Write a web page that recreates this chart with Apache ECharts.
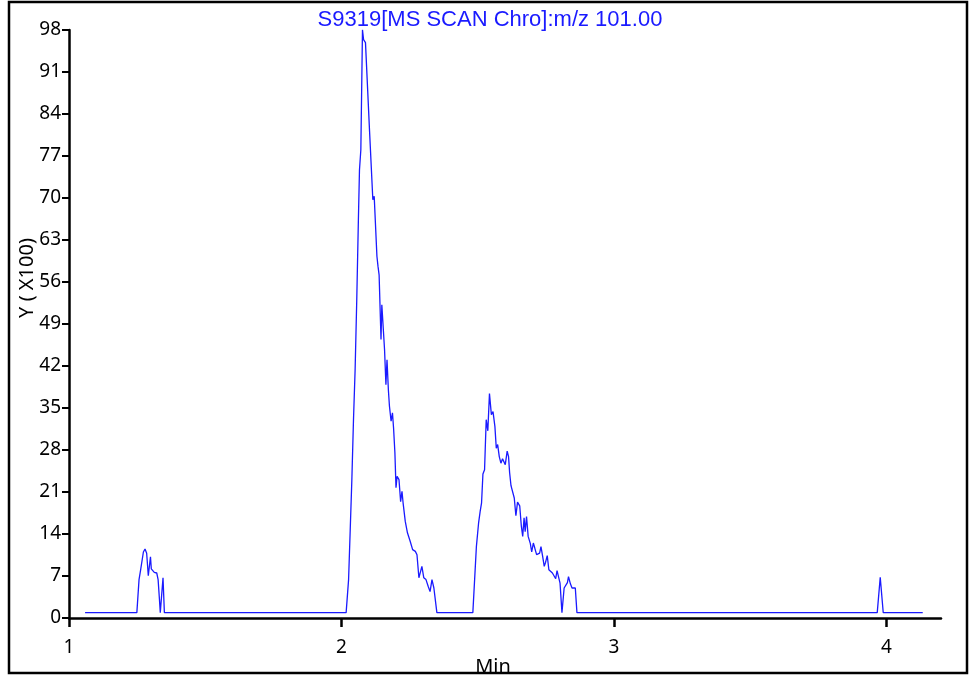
<!DOCTYPE html>
<html>
<head>
<meta charset="utf-8">
<script src="https://cdn.jsdelivr.net/npm/echarts@6/dist/echarts.min.js"></script>
<style>html,body{margin:0;padding:0;background:#fff}#c{width:971px;height:675px}</style>
</head>
<body>
<div id="c"></div>
<script>
// Retention time (min)
const times = [
  1.059, 1.249, 1.257, 1.263, 1.268, 1.273, 1.279, 1.285, 1.291, 1.299, 1.302, 1.307, 1.313, 1.318, 1.322, 1.327, 1.332, 1.335, 1.340, 1.345, 1.350,
  2.017, 2.026, 2.032, 2.038, 2.044, 2.050, 2.056, 2.062, 2.066, 2.071, 2.077, 2.081, 2.088, 2.091, 2.103, 2.108, 2.115, 2.120, 2.130, 2.134, 2.138,
  2.145, 2.148, 2.152, 2.158, 2.163, 2.167, 2.172, 2.176, 2.182, 2.187, 2.191, 2.196, 2.200, 2.204, 2.211, 2.217, 2.222, 2.226, 2.234, 2.242, 2.252,
  2.261, 2.271, 2.277, 2.284, 2.295, 2.302, 2.310, 2.318, 2.325, 2.332, 2.339, 2.345, 2.350,
  2.482, 2.495, 2.503, 2.509, 2.514, 2.519, 2.525, 2.531, 2.537, 2.543, 2.550, 2.556, 2.563, 2.568, 2.573, 2.579, 2.585, 2.591, 2.596, 2.601, 2.608,
  2.613, 2.617, 2.622, 2.629, 2.634, 2.640, 2.646, 2.654, 2.660, 2.665, 2.670, 2.674, 2.679, 2.685, 2.693, 2.698, 2.704, 2.709, 2.716, 2.722, 2.727,
  2.732, 2.738, 2.744, 2.749, 2.755, 2.761, 2.767, 2.774, 2.781, 2.786, 2.791, 2.797, 2.802, 2.809, 2.817, 2.822, 2.829, 2.833, 2.840, 2.846, 2.852,
  2.858, 2.864,
  3.966, 3.977, 3.988, 4.133
];
// Intensity (x100)
const intensity = [
  0.9, 0.9, 6.4, 8.05, 8.2, 11.0, 11.5, 10.8, 7.05, 10.2, 8.2, 8.05, 7.6, 7.7, 7.5, 6.4, 3.05, 0.9, 0.9, 6.7, 0.9,
  0.9, 6.4, 14.7, 23.05, 33.05, 41.4, 53.05, 66.4, 74.7, 78.05, 98.05, 96.4, 95.9, 95.8, 81.1, 80.9, 69.7, 70.3, 60.3, 58.6, 57.2,
  46.4, 52.2, 51.9, 44.7, 38.9, 43.05, 38.05, 35.3, 32.8, 34.2, 31.7, 27.5, 21.7, 23.6, 23.05, 19.4, 21.1, 19.2, 16.1, 14.2, 12.8,
  11.4, 11.1, 10.55, 6.7, 8.6, 6.7, 6.4, 5.3, 4.4, 6.4, 5.0, 5.0, 0.9,
  0.9, 11.9, 15.8, 17.8, 19.2, 24.0, 24.7, 33.05, 31.2, 37.4, 33.9, 34.4, 31.9, 28.3, 28.9, 26.9, 25.8, 26.55, 26.5, 25.55, 27.8,
  26.9, 24.2, 22.05, 21.9, 20.0, 17.05, 19.3, 18.7, 15.3, 13.6, 16.7, 14.4, 16.9, 13.6, 12.4, 11.0, 12.5, 11.7, 10.55, 10.55, 10.8,
  11.9, 10.3, 8.6, 9.3, 10.4, 8.05, 7.9, 7.5, 7.2, 6.55, 7.9, 7.8, 5.8, 0.9, 5.0, 5.3, 5.9, 6.9, 5.7, 5.0, 4.8,
  5.0, 0.9,
  0.9, 6.8, 0.9, 0.9
];
const xTicks = [1, 2, 3, 4];
const titleText = 'S9319[MS SCAN Chro]:m/z 101.00';
const xName = 'Min';
const yName = 'Y ( X100)';

const data = times.map((t, i) => [t, intensity[i]]);
const FONT = 'Noto Sans';

const chart = echarts.init(document.getElementById('c'), null, {renderer: 'canvas'});
chart.setOption({
  animation: false,
  backgroundColor: '#fff',
  title: {
    text: titleText,
    left: 485, top: 4, textAlign: 'center',
    textStyle: {color: '#1a1aff', fontSize: 22, fontWeight: 'normal', fontFamily: 'Liberation Sans'}
  },
  grid: {left: 69, right: 30, top: 30, bottom: 57, containLabel: false, outerBoundsMode: 'none'},
  xAxis: {
    type: 'value', min: 1, max: 4.2, interval: 1,
    name: xName, nameLocation: 'middle', nameGap: 39, nameMoveOverlap: false,
    nameTextStyle: {color: '#000', fontSize: 20, fontFamily: FONT, padding: [0, 24, 0, 0]},
    axisLine: {show: true, onZero: false, lineStyle: {color: '#000', width: 2.5}},
    axisTick: {show: true, inside: false, length: 9, lineStyle: {color: '#000', width: 2.5}, customValues: xTicks},
    axisLabel: {color: '#000', fontSize: 19, fontFamily: FONT, margin: 20, customValues: xTicks},
    splitLine: {show: false}
  },
  yAxis: {
    type: 'value', min: 0, max: 98, interval: 7,
    name: yName, nameLocation: 'middle', nameGap: 32, nameMoveOverlap: false,
    nameTextStyle: {color: '#000', fontSize: 20, fontFamily: FONT, padding: [0, 0, 0, 92]},
    axisLine: {show: true, lineStyle: {color: '#000', width: 2.5}},
    axisTick: {show: true, inside: false, length: 7, lineStyle: {color: '#000', width: 2}},
    axisLabel: {color: '#000', fontSize: 19, fontFamily: FONT, margin: 8},
    splitLine: {show: false}
  },
  series: [{
    type: 'line', data: data, showSymbol: false, symbol: 'none',
    lineStyle: {color: '#1a1aff', width: 1.3},
    itemStyle: {color: '#1a1aff'}
  }],
  graphic: [{
    type: 'rect', z: 100, silent: true,
    shape: {x: 9, y: 2, width: 958, height: 671},
    style: {fill: 'none', stroke: '#000', lineWidth: 2.5}
  }]
});
</script>
</body>
</html>
